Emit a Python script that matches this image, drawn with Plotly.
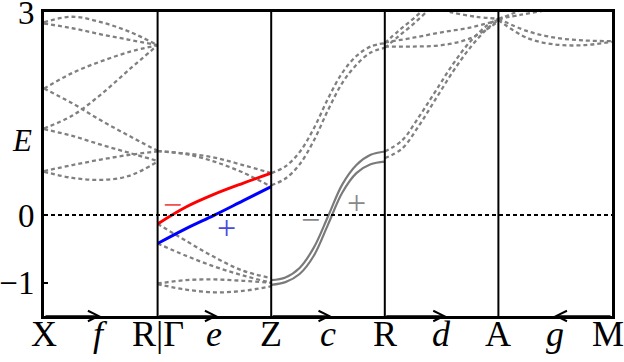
import plotly.graph_objects as go

# High-symmetry path: five segments of unit length
path_labels = ["X", "<i>f</i>", "R|Γ", "<i>e</i>", "Z", "<i>c</i>", "R", "<i>d</i>", "A", "<i>g</i>", "M"]
path_ticks = [0, 0.5, 1, 1.5, 2, 2.5, 3, 3.5, 4, 4.5, 5]
energy_ticks = [-1, 0, 3]
energy_labels = ["−1", "0", "3"]

# Fractional positions inside a segment where energies are sampled
T5 = [0, 0.25, 0.5, 0.75, 1]
T8 = [0, 0.15, 0.3, 0.45, 0.6, 0.75, 0.9, 1]
T9 = [0, 0.125, 0.25, 0.375, 0.5, 0.625, 0.75, 0.875, 1]

# X -> R (segment 0), dashed bands
bands_XR = [
    [2.85, 2.93, 2.85, 2.71, 2.51],
    [2.83, 2.76, 2.67, 2.59, 2.51],
    [1.87, 2.10, 2.27, 2.41, 2.51],
    [1.87, 1.65, 1.40, 1.17, 0.95],
    [1.28, 1.47, 1.78, 2.15, 2.51],
    [1.27, 1.17, 1.04, 0.92, 0.80],
    [0.65, 0.74, 0.82, 0.89, 0.94],
    [0.64, 0.55, 0.52, 0.58, 0.79],
]

# Gamma -> Z (segment 1), dashed bands
bands_GZ = [
    [0.945, 0.91, 0.85, 0.74, 0.62],
    [0.945, 0.90, 0.79, 0.63, 0.42],
    [-0.13, -0.38, -0.62, -0.82, -0.93],
    [-0.42, -0.60, -0.76, -0.89, -1.00],
    [-1.01, -0.96, -0.95, -0.97, -1.00],
    [-1.02, -1.10, -1.14, -1.12, -1.05],
]
# Gamma -> Z highlighted pair
band_red = [-0.13, 0.12, 0.31, 0.47, 0.62]
band_blue = [-0.42, -0.20, 0.00, 0.21, 0.42]

# Z -> R (segment 2)
bands_ZR_solid = [
    [-0.96, -0.92, -0.78, -0.48, -0.02, 0.45, 0.74, 0.89, 0.94],
    [-1.03, -0.99, -0.87, -0.60, -0.14, 0.33, 0.62, 0.75, 0.79],
]
bands_ZR_dashed = [
    [0.62, 0.72, 0.93, 1.28, 1.72, 2.10, 2.35, 2.49, 2.54],
    [0.44, 0.54, 0.75, 1.10, 1.55, 1.95, 2.22, 2.40, 2.47],
]

# R -> A (segment 3)
bands_RA = [
    ([0, 0.12, 0.25, 0.4, 0.5], [2.54, 2.72, 2.90, 3.12, 3.25]),
    ([0, 0.12, 0.25, 0.4, 0.5], [2.47, 2.64, 2.82, 3.05, 3.18]),
    (T5, [2.55, 2.62, 2.70, 2.77, 2.88]),
    (T5, [2.49, 2.49, 2.51, 2.61, 2.86]),
    (T8, [0.94, 1.10, 1.45, 1.84, 2.23, 2.56, 2.80, 2.90]),
    (T8, [0.84, 0.98, 1.32, 1.72, 2.12, 2.47, 2.75, 2.88]),
    ([0.45, 0.6, 0.8, 1], [3.06, 2.99, 2.93, 2.90]),
]

# A -> M (segment 4)
bands_AM = [
    ([0, 0.2, 0.4, 0.6], [2.90, 2.96, 3.02, 3.08]),
    ([0, 0.1, 0.2, 0.3], [2.90, 2.96, 3.03, 3.10]),
    (T5, [2.90, 2.72, 2.62, 2.58, 2.57]),
    (T5, [2.88, 2.62, 2.52, 2.51, 2.56]),
]

GRAY = "#808080"
DASH = "4px,3px"
SERIF = "Liberation Serif"

fig = go.Figure()


def add_band(seg, ts, es, color=GRAY, width=2.3, dash=DASH):
    fig.add_trace(go.Scatter(
        x=[seg + t for t in ts], y=es, mode="lines",
        line=dict(color=color, width=width, dash=dash, shape="spline", smoothing=1),
        hoverinfo="skip", showlegend=False,
    ))


for b in bands_XR:
    add_band(0, T5, b)
for b in bands_GZ:
    add_band(1, T5, b)
for b in bands_ZR_dashed:
    add_band(2, T9, b)
for b in bands_ZR_solid:
    add_band(2, T9, b, color="#7a7a7a", width=2.2, dash="solid")
for ts, b in bands_RA:
    add_band(3, ts, b)
for ts, b in bands_AM:
    add_band(4, ts, b)

add_band(1, T5, band_red, color="#ff0000", width=3, dash="solid")
add_band(1, T5, band_blue, color="#0000ff", width=3, dash="solid")

shapes = []
# Fermi level
shapes.append(dict(type="line", xref="x", yref="y", x0=0, x1=5, y0=0, y1=0,
                   line=dict(color="black", width=2, dash="4px,3px")))
# Segment boundaries
for xv in [1, 2, 3, 4]:
    shapes.append(dict(type="line", xref="x", yref="paper", x0=xv, x1=xv, y0=0, y1=1,
                       line=dict(color="black", width=2)))

Y_MIN, Y_MAX = -1.49, 3.0

annotations = []
# Path labels under the bottom edge; the last one is nudged to stay on the page
for xv, lab in zip(path_ticks, path_labels):
    annotations.append(dict(x=xv, y=0, xref="x", yref="paper", text=lab, showarrow=False,
                            xanchor="center", yanchor="middle", yshift=-18,
                            xshift=-4 if xv == 5 else 0,
                            font=dict(family=SERIF, size=36, color="black")))

# Direction arrows along the bottom edge
arrows = [(0, 0.5), (1, 1.53), (2, 2.53), (3, 3.54), (5, 4.49)]
for tail, tip in arrows:
    annotations.append(dict(
        x=tip, y=Y_MIN, ax=tail, ay=Y_MIN, xref="x", yref="y", axref="x", ayref="y",
        text="", showarrow=True, arrowhead=5, arrowsize=1.3, arrowwidth=1.6,
        arrowcolor="black",
    ))

# Parity signs
signs = [
    ("−", 1.13, 0.16, "#f05050"),
    ("+", 1.61, -0.18, "#4a4ae0"),
    ("−", 2.35, -0.07, "#888888"),
    ("+", 2.755, 0.19, "#888888"),
]
for txt, xv, yv, col in signs:
    annotations.append(dict(x=xv, y=yv, xref="x", yref="y", text=txt, showarrow=False,
                            xanchor="center", yanchor="middle",
                            font=dict(family=SERIF, size=34, color=col)))

# Energy axis label
annotations.append(dict(x=-0.039, y=1.1, xref="paper", yref="y", text="<i>E</i>",
                        xanchor="center", yanchor="middle", showarrow=False,
                        font=dict(family=SERIF, size=31, color="black")))

fig.update_layout(
    width=624, height=362,
    margin=dict(l=44, r=12, t=12, b=46),
    paper_bgcolor="white", plot_bgcolor="white",
    shapes=shapes, annotations=annotations,
    xaxis=dict(range=[0, 5], showticklabels=False,
               showgrid=False, zeroline=False, showline=True, mirror=True,
               linewidth=3, linecolor="black", ticks="", automargin=False),
    yaxis=dict(range=[Y_MIN, Y_MAX], tickvals=energy_ticks, ticktext=energy_labels,
               showgrid=False, zeroline=False, showline=True, mirror=True,
               linewidth=3, linecolor="black", ticks="inside", ticklen=4, tickwidth=2,
               tickcolor="black", automargin=False, ticklabeloverflow="allow",
               tickfont=dict(family=SERIF, size=33, color="black")),
)

fig.write_html("out.html")
